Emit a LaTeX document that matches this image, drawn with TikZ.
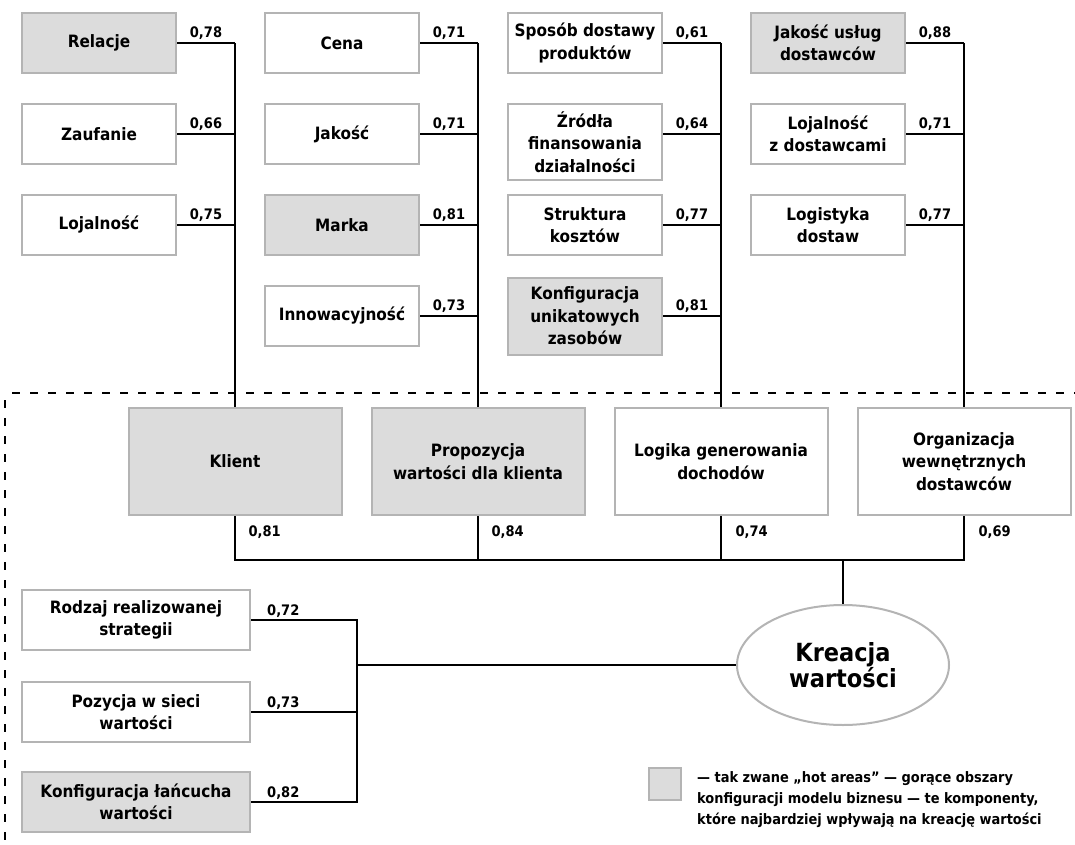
\documentclass[tikz,border=0pt]{standalone}
\usepackage{fontspec}
\setmainfont{DejaVu Sans Condensed}
\usetikzlibrary{shapes.geometric,calc}
\definecolor{bordergray}{HTML}{B4B4B4}
\definecolor{hotgray}{HTML}{DCDCDC}
\newcommand{\bxfont}{\bfseries\fontsize{17}{22.5}\selectfont}
\newcommand{\valfont}{\bfseries\fontsize{14.5}{16}\selectfont}
\newcommand{\bigfont}{\bfseries\fontsize{25}{25}\selectfont}
\newcommand{\legfont}{\bfseries\fontsize{14.4}{21}\selectfont}
\tikzset{
  box/.style={draw=bordergray, line width=2pt, fill=white, minimum width=154pt, minimum height=60pt, align=center, inner sep=0pt, font=\bxfont},
  hot/.style={fill=hotgray},
  midbox/.style={box, minimum width=213pt, minimum height=107pt},
  lowbox/.style={box, minimum width=228pt},
  conn/.style={line width=2.5pt, black},
  val/.style={font=\valfont, inner sep=2pt, anchor=south},
  dashline/.style={line width=2.3pt, dash pattern=on 8pt off 10pt},
}
\begin{document}
\begin{tikzpicture}[x=1pt,y=-1pt]
\useasboundingbox (0,0) rectangle (1075,845);
% column 1
\node[box,hot] (relacje) at (99,43) {Relacje};
\node[box] (zaufanie) at (99,134) {Zaufanie};
\node[box] (lojalnosc) at (99,225) {Lojalność};
% column 2
\node[box] (cena) at (342,43) {Cena};
\node[box] (jakosc) at (342,134) {Jakość};
\node[box,hot] (marka) at (342,225) {Marka};
\node[box] (innow) at (342,316) {Innowacyjność};
% column 3
\node[box] (sposob) at (585,43) {Sposób dostawy\\produktów};
\node[box, minimum height=76pt] (zrodla) at (585,142) {Źródła\\finansowania\\działalności};
\node[box] (struktura) at (585,225) {Struktura\\kosztów};
\node[box,hot, minimum height=77pt] (konfig) at (585,316) {Konfiguracja\\unikatowych\\zasobów};
% column 4
\node[box,hot] (jakoscus) at (828,43) {Jakość usług\\dostawców};
\node[box] (lojdost) at (828,134) {Lojalność\\z dostawcami};
\node[box] (logistyka) at (828,225) {Logistyka\\dostaw};
% dashed frame
\coordinate (dh1) at (12,393); \coordinate (dh2) at (1075,393);
\coordinate (dv1) at (5,400); \coordinate (dv2) at (5,845);
\draw[dashline] (dh1) -- (dh2);
\draw[dashline] (dv1) -- (dv2);
% middle boxes
\node[midbox,hot] (klient) at (235,461.5) {Klient};
\node[midbox,hot] (propozycja) at (478,461.5) {Propozycja\\wartości dla klienta};
\node[midbox] (logika) at (721,461.5) {Logika generowania\\dochodów};
\node[midbox] (organizacja) at (964,461.5) {Organizacja\\wewnętrznych\\dostawców};
% junctions
\coordinate (a1) at (235,43); \coordinate (a2) at (235,134); \coordinate (a3) at (235,225);
\coordinate (b1) at (478,43); \coordinate (b2) at (478,134); \coordinate (b3) at (478,225); \coordinate (b4) at (478,316);
\coordinate (c1) at (721,43); \coordinate (c2) at (721,134); \coordinate (c3) at (721,225); \coordinate (c4) at (721,316);
\coordinate (d1) at (964,43); \coordinate (d2) at (964,134); \coordinate (d3) at (964,225);
% column 1 connectors
\draw[conn] (a1) -- (klient.north);
\draw[conn] (relacje.east) -- (a1) node[midway,val] {0,78};
\draw[conn] (zaufanie.east) -- (a2) node[midway,val] {0,66};
\draw[conn] (lojalnosc.east) -- (a3) node[midway,val] {0,75};
% column 2
\draw[conn] (b1) -- (propozycja.north);
\draw[conn] (cena.east) -- (b1) node[midway,val] {0,71};
\draw[conn] (jakosc.east) -- (b2) node[midway,val] {0,71};
\draw[conn] (marka.east) -- (b3) node[midway,val] {0,81};
\draw[conn] (innow.east) -- (b4) node[midway,val] {0,73};
% column 3
\draw[conn] (c1) -- (logika.north);
\draw[conn] (sposob.east) -- (c1) node[midway,val] {0,61};
\draw[conn] (zrodla.east |- c2) -- (c2) node[midway,val] {0,64};
\draw[conn] (struktura.east) -- (c3) node[midway,val] {0,77};
\draw[conn] (konfig.east) -- (c4) node[midway,val] {0,81};
% column 4
\draw[conn] (d1) -- (organizacja.north);
\draw[conn] (jakoscus.east) -- (d1) node[midway,val] {0,88};
\draw[conn] (lojdost.east) -- (d2) node[midway,val] {0,71};
\draw[conn] (logistyka.east) -- (d3) node[midway,val] {0,77};
% bottom bus
\coordinate (h1) at (235,560); \coordinate (h2) at (478,560);
\coordinate (h3) at (721,560); \coordinate (h4) at (964,560);
\coordinate (hm) at (843,560);
\node[draw=bordergray, line width=2pt, fill=white, ellipse, minimum width=212pt, minimum height=120pt, inner sep=0pt, align=center, font=\bigfont] (kreacja) at (843,665) {Kreacja\\wartości};
\draw[conn] (klient.south) -- (h1) -- (h4) -- (organizacja.south);
\draw[conn] (propozycja.south) -- (h2);
\draw[conn] (logika.south) -- (h3);
\draw[conn] (hm) -- (kreacja.north);
\node[font=\valfont, anchor=west] (v1) at (245,532) {0,81};
\node[font=\valfont, anchor=west] (v2) at (488,532) {0,84};
\node[font=\valfont, anchor=west] (v3) at (732,532) {0,74};
\node[font=\valfont, anchor=west] (v4) at (975,532) {0,69};
% lower left boxes
\node[lowbox] (rodzaj) at (136,620) {Rodzaj realizowanej\\strategii};
\node[lowbox] (pozycja) at (136,712) {Pozycja w sieci\\wartości};
\node[lowbox,hot] (lancuch) at (136,802) {Konfiguracja łańcucha\\wartości};
\coordinate (e1) at (357,620); \coordinate (e2) at (357,712); \coordinate (e3) at (357,802);
\coordinate (em) at (357,665);
\draw[conn] (rodzaj.east) -- (e1) -- (e3) -- (lancuch.east);
\draw[conn] (pozycja.east) -- (e2);
\draw[conn] (em) -- (kreacja.west);
\node[font=\valfont, anchor=south west, inner sep=2pt] at ($(rodzaj.east)+(14,0)$) {0,72};
\node[font=\valfont, anchor=south west, inner sep=2pt] at ($(pozycja.east)+(14,0)$) {0,73};
\node[font=\valfont, anchor=south west, inner sep=2pt] at ($(lancuch.east)+(14,0)$) {0,82};
% legend
\node[draw=bordergray, line width=2pt, fill=hotgray, minimum size=32pt, inner sep=0pt] (legsq) at (665,784) {};
\node[font=\legfont, align=left, anchor=north west, inner sep=0pt] (legtxt) at (697,771) {— tak zwane „hot areas” — gorące obszary\\konfiguracji modelu biznesu — te komponenty,\\które najbardziej wpływają na kreację wartości};
\end{tikzpicture}
\end{document}
